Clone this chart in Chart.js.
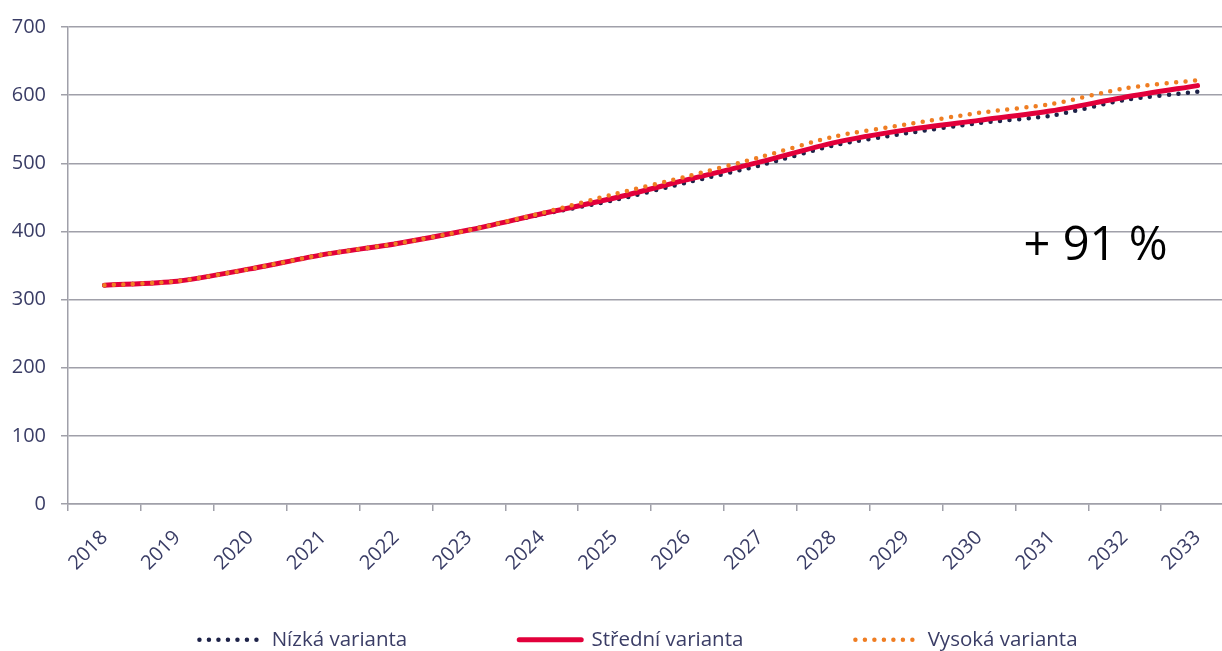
<!DOCTYPE html>
<html>
<head>
<meta charset="utf-8">
<script src="https://cdn.jsdelivr.net/npm/chart.js@4.4.1/dist/chart.umd.min.js"></script>
<style>
  html, body { margin: 0; padding: 0; background: #fff; overflow: hidden; width: 1222px; height: 651px; }
  #wrap { width: 1277px; height: 660px; position: absolute; left: 0; top: 0; }
</style>
</head>
<body>
<div id="wrap"><canvas id="c"></canvas></div>
<script>
const years = ['2018','2019','2020','2021','2022','2023','2024','2025','2026','2027','2028','2029','2030','2031','2032','2033'];
const nizka   = [321, 327, 345, 366, 382, 402, 425, 446, 472, 497, 526, 544, 559, 570, 593, 605];
const stredni = [321, 327, 345, 366, 382, 402, 426, 449, 476, 502, 530, 549, 563, 577, 597, 614];
const vysoka  = [321, 327, 345, 366, 382, 402, 427, 455, 481, 509, 539, 557, 574, 587, 610, 622];
const yTicks  = [0, 100, 200, 300, 400, 500, 600, 700];
const seriesNames = ['Nízká varianta', 'Střední varianta', 'Vysoká varianta'];
const annotationText = '+ 91 %';

const labelColor = '#3a3d66';
const gridColor = '#a0a0a9';
const FONT = "'Open Sans', 'Noto Sans', sans-serif";

const annotationPlugin = {
  id: 'annot',
  afterDatasetsDraw(chart) {
    const {ctx, scales} = chart;
    const x = scales.x.getPixelForValue(13.6);
    const y = scales.y.getPixelForValue(377);
    ctx.save();
    ctx.font = "47px " + FONT;
    ctx.fillStyle = '#000';
    ctx.textAlign = 'center';
    ctx.textBaseline = 'middle';
    ctx.fillText(annotationText, x, y);
    ctx.restore();
  }
};

new Chart(document.getElementById('c'), {
  type: 'line',
  data: {
    labels: years,
    datasets: [
      { label: seriesNames[0], data: nizka, borderColor: '#1d2248', backgroundColor: '#1d2248',
        borderWidth: 4.5, borderDash: [0, 9.5], borderCapStyle: 'round', pointRadius: 0, tension: 0.25, order: 2 },
      { label: seriesNames[1], data: stredni, borderColor: '#e2003b', backgroundColor: '#e2003b',
        borderWidth: 5, borderCapStyle: 'round', pointRadius: 0, tension: 0.25, order: 1 },
      { label: seriesNames[2], data: vysoka, borderColor: '#ef7d22', backgroundColor: '#ef7d22',
        borderWidth: 4.5, borderDash: [0, 9.5], borderCapStyle: 'round', pointRadius: 0, tension: 0.25, order: 0 }
    ]
  },
  options: {
    responsive: true,
    maintainAspectRatio: false,
    animation: false,
    layout: { padding: { top: 25, left: 0, right: 0, bottom: 0 } },
    plugins: {
      tooltip: { enabled: false },
      legend: {
        position: 'bottom',
        labels: {
          usePointStyle: true,
          pointStyle: 'line',
          pointStyleWidth: 62,
          boxHeight: 12,
          padding: 112,
          color: labelColor,
          font: { family: FONT, size: 20.5 },
          sort: (a, b) => a.datasetIndex - b.datasetIndex,
          generateLabels: (chart) => {
            const items = Chart.defaults.plugins.legend.labels.generateLabels(chart);
            return items.map(it => {
              const ds = chart.data.datasets[it.datasetIndex];
              it.lineDash = ds.borderDash || [];
              it.lineCap = ds.borderCapStyle || 'butt';
              it.lineWidth = ds.borderWidth;
              it.strokeStyle = ds.borderColor;
              it.pointStyle = 'line';
              return it;
            });
          }
        }
      }
    },
    scales: {
      x: {
        type: 'category',
        offset: true,
        grid: { offset: true, drawOnChartArea: false, color: gridColor, lineWidth: 1.5, tickLength: 7 },
        border: { color: gridColor, width: 1.5 },
        ticks: { color: labelColor, font: { family: FONT, size: 20 }, minRotation: 45, maxRotation: 45, autoSkip: false, padding: 15 },
        afterFit: s => { s.height = 13.5; s._computeLabelArea = () => undefined; }
      },
      y: {
        min: 0, max: 700,
        afterBuildTicks: s => { s.ticks = yTicks.map(v => ({ value: v })); },
        grid: { color: gridColor, lineWidth: 1.5, tickLength: 7 },
        border: { color: gridColor, width: 1.5 },
        ticks: { color: labelColor, font: { family: FONT, size: 20 }, padding: 15 },
        afterFit: s => { s.width = 68; }
      },
      y2: {
        position: 'right',
        display: true,
        grid: { display: false },
        border: { display: false },
        ticks: { display: false },
        afterFit: s => { s.width = 43; }
      }
    }
  },
  plugins: [annotationPlugin]
});
</script>
</body>
</html>
